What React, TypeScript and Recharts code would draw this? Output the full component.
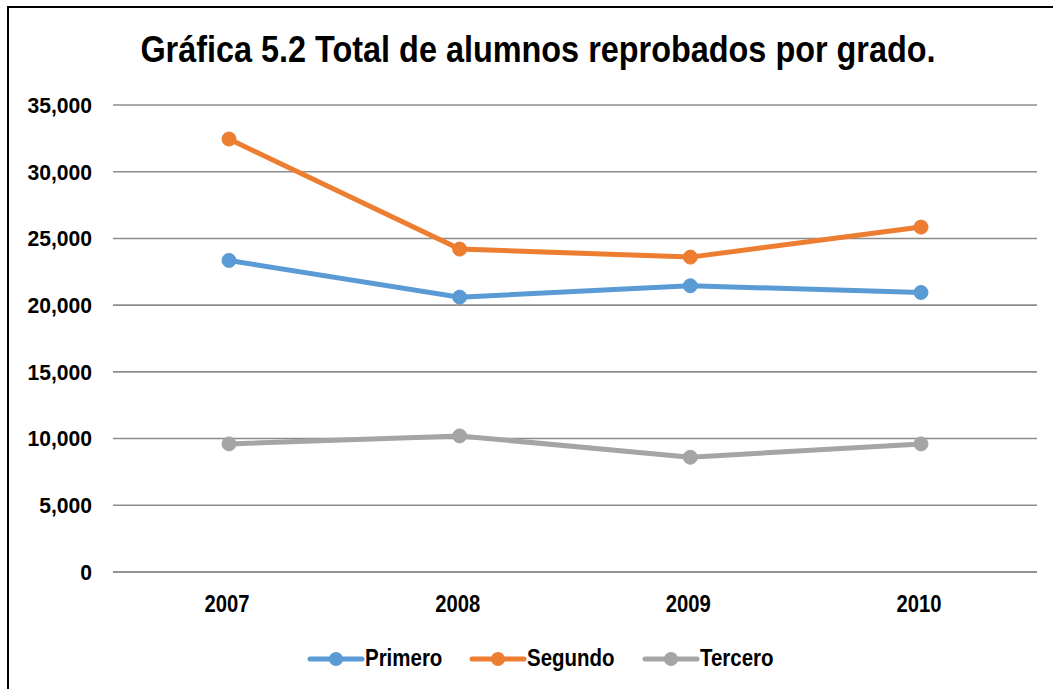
import { LineChart, Line, XAxis, YAxis, CartesianGrid } from 'recharts';

const years = ['2007', '2008', '2009', '2010'];
const primero = [23350, 20600, 21450, 20950];
const segundo = [32450, 24200, 23600, 25850];
const tercero = [9600, 10200, 8600, 9600];
const yTicks = [0, 5000, 10000, 15000, 20000, 25000, 30000, 35000];

const series = [
  { key: 'Primero', color: '#5b9bd5' },
  { key: 'Segundo', color: '#ed7d31' },
  { key: 'Tercero', color: '#a5a5a5' },
];

const data = years.map((y, i) => ({
  year: y,
  Primero: primero[i],
  Segundo: segundo[i],
  Tercero: tercero[i],
}));

const font = '"Liberation Sans", Arial, sans-serif';

const fmt = (v: number) => v.toLocaleString('en-US');

// narrow-looking text by squeezing horizontally
function YTick(props: any) {
  const { x, y, payload } = props;
  return (
    <text transform={`translate(${x},${y}) scale(0.96,1)`} textAnchor="end" dy="0.36em"
      fontFamily={font} fontWeight={700} fontSize={22} fill="#000">
      {fmt(payload.value)}
    </text>
  );
}

function XTick(props: any) {
  const { x, y, payload } = props;
  return (
    <text transform={`translate(${x - 2},${y}) scale(0.88,1)`} textAnchor="middle" dy={32}
      fontFamily={font} fontWeight={700} fontSize={23} fill="#000">
      {payload.value}
    </text>
  );
}

function LegendBox() {
  return (
    <div style={{ display: 'flex', justifyContent: 'center', alignItems: 'center' }}>
      {series.map((s, i) => (
        <div key={s.key} style={{ display: 'flex', alignItems: 'center', marginLeft: i ? 27 : 0 }}>
          <svg width={58} height={18}>
            <line x1={3} y1={9} x2={55} y2={9} stroke={s.color} strokeWidth={5} strokeLinecap="round" />
            <circle cx={29} cy={9} r={7} fill={s.color} />
          </svg>
          <span style={{ display: 'inline-block', fontFamily: font, fontWeight: 700, fontSize: 23, color: '#000', transform: 'scaleX(0.89)', transformOrigin: 'left center', marginRight: -10 }}>
            {s.key}
          </span>
        </div>
      ))}
    </div>
  );
}

export default function App() {
  return (
    <div style={{ position: 'absolute', left: 0, top: 0, width: 1053, height: 689, background: '#fff', overflow: 'hidden' }}>
      <div style={{ position: 'absolute', left: 7, top: 6, width: 1060, height: 700, border: '2px solid #000', boxSizing: 'border-box' }} />
      <div style={{ position: 'absolute', top: 28, left: 0, width: 1076, textAlign: 'center', fontFamily: font, fontWeight: 700, fontSize: 36, lineHeight: '44px', color: '#000', transform: 'scaleX(0.9)', transformOrigin: '538px 0' }}>
        Gráfica 5.2 Total de alumnos reprobados por grado.
      </div>
      <div style={{ position: 'absolute', left: 0, top: 0 }}>
        <LineChart width={1053} height={689} data={data} margin={{ top: 105, right: 16, bottom: 57, left: 0 }}>
          <CartesianGrid vertical={false} stroke="#8c8c8c" strokeWidth={1.6} />
          <XAxis
            dataKey="year"
            axisLine={{ stroke: '#8c8c8c', strokeWidth: 1.6 }}
            tickLine={false}
            padding={{ left: 116, right: 116 }}
            tick={<XTick />}
            height={60}
          />
          <YAxis
            width={113}
            domain={[0, 35000]}
            ticks={yTicks}
            axisLine={false}
            tickLine={false}
            tick={<YTick />}
            tickMargin={15}
          />
          {series.map((s) => (
            <Line
              key={s.key}
              dataKey={s.key}
              stroke={s.color}
              strokeWidth={5}
              dot={{ r: 7, fill: s.color, stroke: s.color, strokeWidth: 1 }}
              isAnimationActive={false}
            />
          ))}
        </LineChart>
      </div>
      <div style={{ position: 'absolute', top: 645, left: 0, width: 1080 }}>
        <LegendBox />
      </div>
    </div>
  );
}
